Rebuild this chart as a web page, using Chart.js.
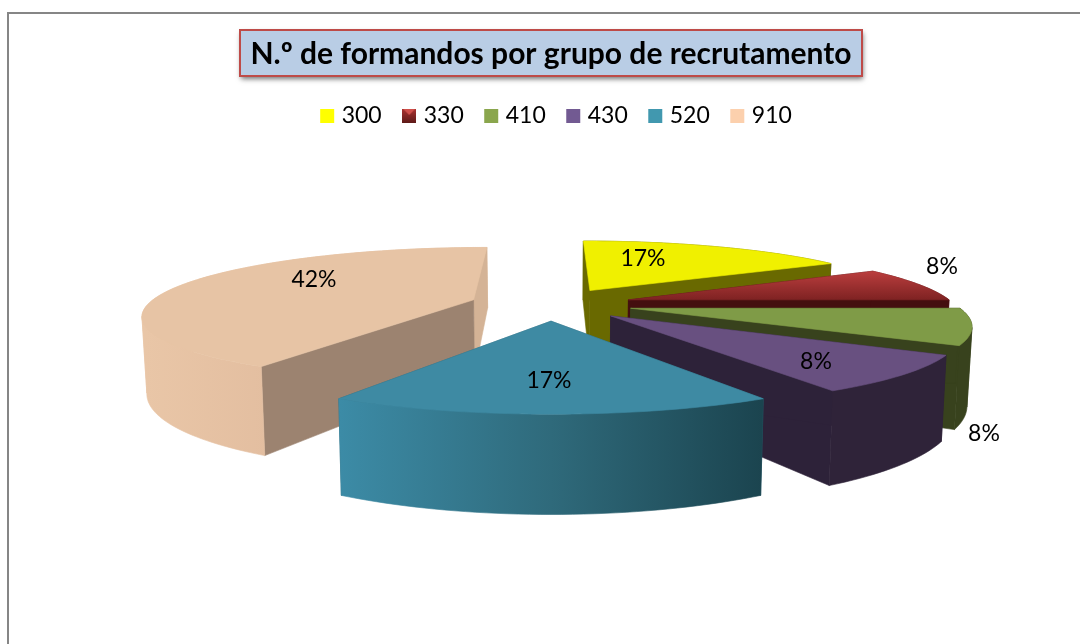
<!DOCTYPE html>
<html>
<head>
<meta charset="utf-8">
<style>html,body{margin:0;padding:0;background:#fff}canvas{display:block}</style>
<script src="https://cdn.jsdelivr.net/npm/chart.js@4"></script>
</head>
<body>
<canvas id="c" width="1080" height="644"></canvas>
<script>
const chartTitle = "N.º de formandos por grupo de recrutamento";
const categories = ["300", "330", "410", "430", "520", "910"];
const formandos = [2, 1, 1, 1, 2, 5];
const legendColors = ["#ffff00", "#a8322f", "#8aa64d", "#725a92", "#4198af", "#fcd0ad"];
const topColors = ["#f0f000", "#a83232", "#7f9b47", "#685080", "#3e8aa3", "#e7c4a5"];
const wallColors = ["#696900", "#440f0f", "#38421d", "#2d2239", "#2a6475", "#9c8370"];
const outerColors = ["#696900", "#5a1515", "#38421d", "#2f2339", "#2a6475", "#e6c3a4"];
const drawOrder = [0, 5, 1, 2, 3, 4];
const labelCenters = [[643,259],[942,267],[984,434],[816,362],[549,381],[314,280]];

const P = {cx:551, cy:304, rx:325, ry:65, k:0.21, explode:0.25, depth:74, taper:0.988};
function project(u, v, t) {
  const s = 1 / (1 - P.k * v);
  const taper = 1 - (1 - P.taper) * t;
  return [P.cx + P.rx * u * s * taper, P.cy + P.ry * v * s + P.depth * s * t];
}
function poly(ctx, pts, fill) {
  ctx.beginPath();
  pts.forEach((p, i) => i ? ctx.lineTo(p[0], p[1]) : ctx.moveTo(p[0], p[1]));
  ctx.closePath();
  ctx.fillStyle = fill; ctx.strokeStyle = fill; ctx.lineWidth = 0.6;
  ctx.fill(); ctx.stroke();
}
function hGrad(ctx, x0, x1, stops) {
  const g = ctx.createLinearGradient(x0, 0, x1, 0);
  stops.forEach(s => g.addColorStop(s[0], s[1]));
  return g;
}
const pie3d = {
  id: "pie3d",
  beforeDraw(chart) {
    const ctx = chart.ctx, tb = chart.titleBlock;
    ctx.save();
    ctx.strokeStyle = "#868686"; ctx.lineWidth = 2;
    ctx.beginPath(); ctx.moveTo(8, 644); ctx.lineTo(8, 13); ctx.lineTo(1080, 13); ctx.stroke();
    const mid = (tb.left + tb.right) / 2;
    ctx.shadowColor = "rgba(0,0,0,0.55)"; ctx.shadowBlur = 5; ctx.shadowOffsetX = 1; ctx.shadowOffsetY = 3;
    ctx.fillStyle = "#b9cde5";
    ctx.fillRect(mid - 311, 30, 622, 46);
    ctx.shadowColor = "transparent";
    ctx.strokeStyle = "#be4b48"; ctx.lineWidth = 2;
    ctx.strokeRect(mid - 311, 30, 622, 46);
    ctx.restore();
  },
  beforeDatasetDraw(chart) {
    const ctx = chart.ctx, arcs = chart.getDatasetMeta(0).data;
    const total = formandos.reduce((a, b) => a + b, 0);
    ctx.save();
    drawOrder.forEach(i => {
      const a0 = arcs[i].startAngle + Math.PI / 2, a1 = arcs[i].endAngle + Math.PI / 2;
      const m = (a0 + a1) / 2;
      const eu = P.explode * Math.sin(m), ev = -P.explode * Math.cos(m);
      const n = Math.max(8, Math.round((a1 - a0) * 40));
      const rim = [];
      for (let j = 0; j <= n; j++) {
        const a = a0 + (a1 - a0) * j / n;
        rim.push([eu + Math.sin(a), ev - Math.cos(a), a]);
      }
      let outer = outerColors[i], topF = topColors[i];
      if (i === 4) outer = hGrad(ctx, 340, 762, [[0, "#3c8ba6"], [0.5, "#2f6a7b"], [1, "#1b444f"]]);
      if (i === 5) outer = hGrad(ctx, 145, 270, [[0, "#e9c6a7"], [1, "#e3bea0"]]);
      if (i === 1) {
        const g = ctx.createLinearGradient(0, 271, 0, 300);
        g.addColorStop(0, "#bb3e3e"); g.addColorStop(1, "#7e2222");
        topF = g;
      }
      const facing = (j) => {
        const a = (rim[j][2] + rim[j + 1][2]) / 2;
        const nu = Math.sin(a), nv = -Math.cos(a);
        return nu * (0 - rim[j][0]) + nv * (1 / P.k - rim[j][1]) > 0;
      };
      const strips = (wantFront) => {
        let j = 0;
        while (j < n) {
          if (facing(j) !== wantFront) { j++; continue; }
          let e = j;
          while (e < n && facing(e) === wantFront) e++;
          const upper = [], lower = [];
          for (let q = j; q <= e; q++) {
            upper.push(project(rim[q][0], rim[q][1], 0));
            lower.unshift(project(rim[q][0], rim[q][1], 1));
          }
          poly(ctx, upper.concat(lower), outer);
          j = e;
        }
      };
      strips(false);
      const apexT = project(eu, ev, 0), apexB = project(eu, ev, 1);
      const first = rim[0], last = rim[n];
      const wallPoly = (p) => [apexT, project(p[0], p[1], 0), project(p[0], p[1], 1), apexB];
      poly(ctx, wallPoly(last), i === 5 ? "#d4b396" : wallColors[i]);
      poly(ctx, wallPoly(first), wallColors[i]);
      strips(true);
      const top = [apexT];
      rim.forEach(p => top.push(project(p[0], p[1], 0)));
      poly(ctx, top, topF);
    });
    ctx.fillStyle = "#000";
    ctx.font = "23px Lato";
    ctx.textAlign = "center"; ctx.textBaseline = "middle";
    formandos.forEach((v, i) => {
      ctx.fillText(Math.round(v / total * 100) + "%", labelCenters[i][0], labelCenters[i][1]);
    });
    ctx.restore();
    return false;
  },
  afterLayout(chart) {
    chart.legend.left += 7; chart.legend.right += 7;
  }
};
function redIcon() {
  const c = document.createElement("canvas"); c.width = 14; c.height = 14;
  const x = c.getContext("2d");
  const g = x.createLinearGradient(0, 0, 0, 14);
  g.addColorStop(0, "#a83230"); g.addColorStop(1, "#5e1a18");
  x.fillStyle = g; x.fillRect(0, 0, 14, 14);
  x.fillStyle = "#cf4f4a"; x.beginPath(); x.moveTo(1, 0); x.lineTo(13, 0); x.lineTo(7, 6); x.closePath(); x.fill();
  return c;
}
const icon = redIcon();
new Chart(document.getElementById("c"), {
  type: "pie",
  data: {
    labels: categories,
    datasets: [{ data: formandos, backgroundColor: topColors, borderWidth: 0 }]
  },
  plugins: [pie3d],
  options: {
    responsive: false,
    animation: false,
    layout: { padding: { top: 36, left: 22, right: 0, bottom: 10 } },
    plugins: {
      tooltip: { enabled: false },
      title: {
        display: true, text: chartTitle, color: "#000",
        font: { family: "Lato", size: 30, weight: "bold" },
        padding: { top: 0, bottom: 8 }
      },
      legend: {
        display: true, position: "top",
        labels: {
          color: "#000",
          font: { family: "Lato", size: 23 },
          usePointStyle: true, boxWidth: 6, boxHeight: 14, padding: 24.5,
          generateLabels: () => categories.map((t, i) => ({
            text: t, fillStyle: legendColors[i], strokeStyle: legendColors[i], lineWidth: 0,
            pointStyle: i === 1 ? icon : "rect", index: i, hidden: false
          }))
        }
      }
    }
  }
});
</script>
</body>
</html>
